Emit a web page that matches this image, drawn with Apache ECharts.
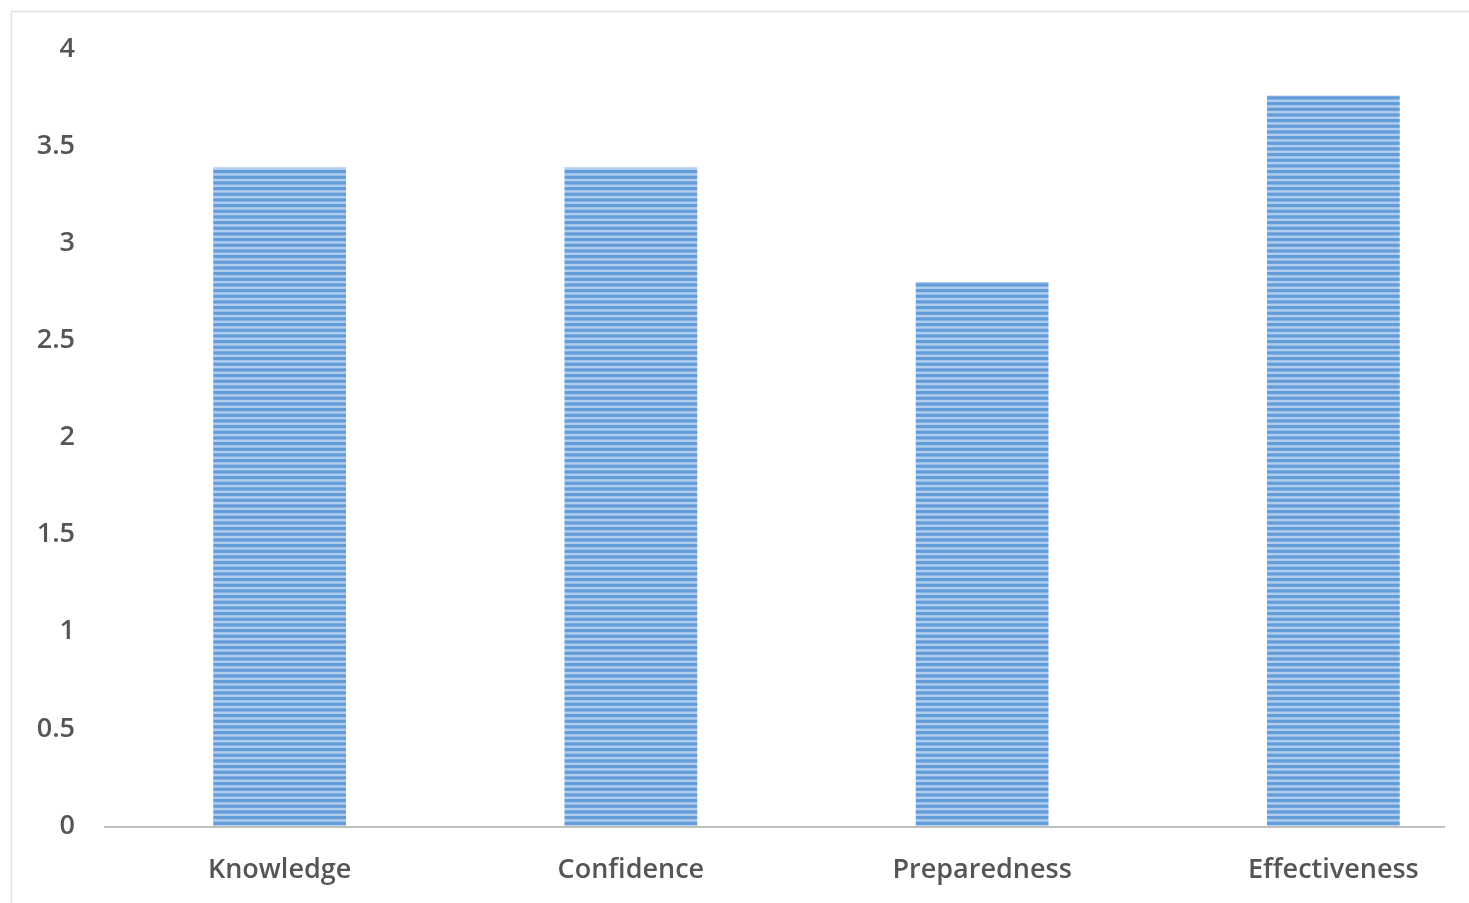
<!DOCTYPE html>
<html>
<head>
<meta charset="utf-8">
<script src="https://cdn.jsdelivr.net/npm/echarts@6/dist/echarts.min.js"></script>
<style>
html,body{margin:0;padding:0;background:#fff;}
#c{width:1469px;height:903px;}
</style>
</head>
<body>
<div id="c"></div>
<script>
var categories = ['Knowledge', 'Confidence', 'Preparedness', 'Effectiveness'];
var values = [3.39, 3.39, 2.8, 3.76];
var yTicks = {min: 0, max: 4, interval: 0.5};

function stripePattern() {
  var cv = document.createElement('canvas');
  cv.width = 8; cv.height = 17;
  var ctx = cv.getContext('2d');
  ctx.fillStyle = '#b1cdee';
  ctx.fillRect(0, 0, 8, 17);
  ctx.fillStyle = '#629dda';
  var p = 17 / 3;
  for (var i = 0; i < 3; i++) {
    ctx.fillRect(0, i * p, 8, 3.2);
  }
  return cv;
}

var chart = echarts.init(document.getElementById('c'));
var textStyle = {color: '#555555', fontFamily: 'Open Sans', fontSize: 27, fontWeight: 600};
var frame = {
  type: 'rect', z: -10, silent: true,
  shape: {x: 11.5, y: 11.5, width: 3000, height: 3000},
  style: {fill: 'none', stroke: '#e2e2e2', lineWidth: 1.5}
};
chart.setOption({
  animation: false,
  graphic: [frame],
  grid: {left: 104, width: 1405, top: 49, bottom: 77, containLabel: false, outerBoundsMode: 'none'},
  xAxis: {
    type: 'category',
    data: categories,
    axisLine: {show: false},
    axisTick: {show: false},
    axisLabel: Object.assign({margin: 31}, textStyle)
  },
  yAxis: {
    type: 'value',
    min: yTicks.min, max: yTicks.max, interval: yTicks.interval,
    axisLine: {show: false},
    axisTick: {show: false},
    splitLine: {show: false},
    axisLabel: Object.assign({margin: 29, padding: [4, 0, 0, 0]}, textStyle)
  },
  series: [{
    type: 'bar',
    data: values,
    barWidth: '37.8%',
    itemStyle: {color: {image: stripePattern(), repeat: 'repeat'}}
  }]
});
var y0 = chart.convertToPixel({yAxisIndex: 0}, 0);
chart.setOption({
  graphic: [frame, {
    type: 'line', z: 10, silent: true,
    shape: {x1: 104, y1: y0 + 1, x2: 1445, y2: y0 + 1},
    style: {stroke: '#bfbfbf', lineWidth: 2}
  }]
});
</script>
</body>
</html>
